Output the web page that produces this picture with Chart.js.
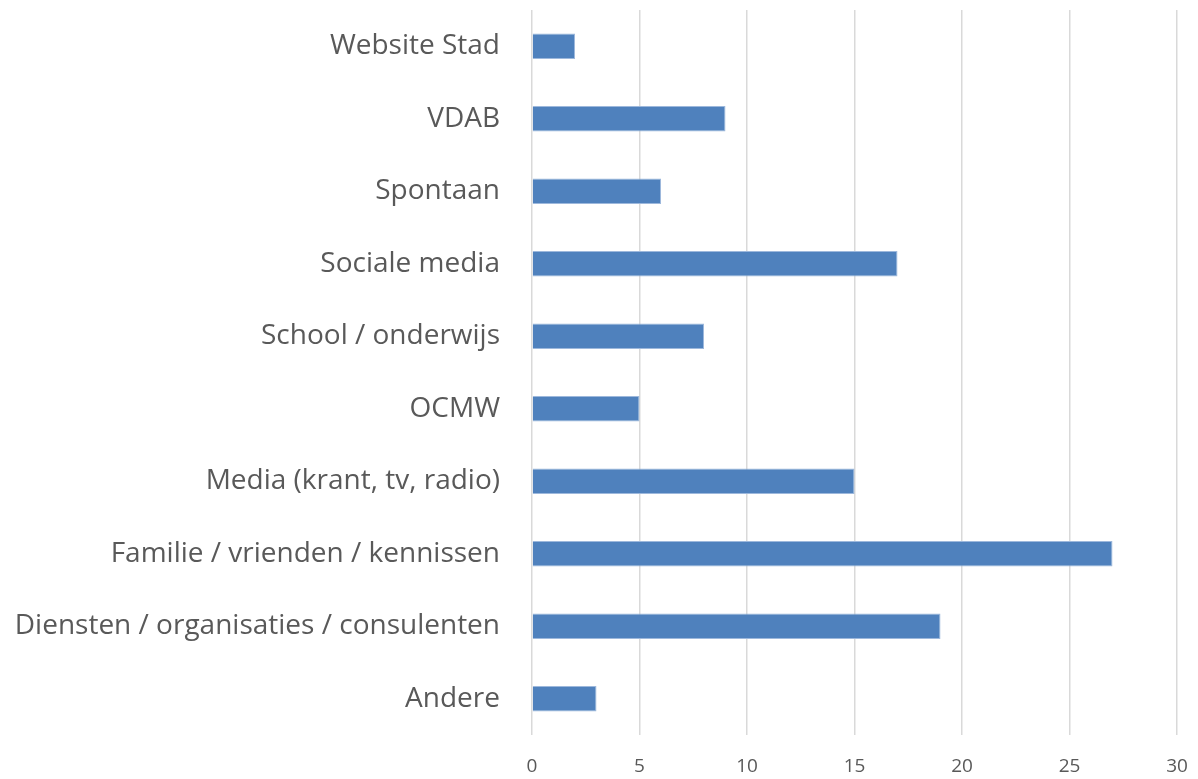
<!DOCTYPE html>
<html>
<head>
<meta charset="utf-8">
<script src="https://cdn.jsdelivr.net/npm/chart.js@4.4.0/dist/chart.umd.min.js"></script>
<style>
  html, body { margin: 0; padding: 0; background: #fff; }
  #wrap { width: 1198px; height: 779px; }
</style>
</head>
<body>
<div id="wrap"><canvas id="chart"></canvas></div>
<script>
const categories = [
    "Website Stad",
    "VDAB",
    "Spontaan",
    "Sociale media",
    "School / onderwijs",
    "OCMW",
    "Media (krant, tv, radio)",
    "Familie / vrienden / kennissen",
    "Diensten / organisaties / consulenten",
    "Andere",
];
const counts = [2, 9, 6, 17, 8, 5, 15, 27, 19, 3];
const xTicks = [0, 5, 10, 15, 20, 25, 30];

const ctx = document.getElementById("chart").getContext("2d");
new Chart(ctx, {
    type: "bar",
    data: {
        labels: categories,
        datasets: [{
            data: counts,
            backgroundColor: "#4f81bd",
            borderColor: "#9db8dc",
            borderWidth: 1,
            categoryPercentage: 1,
            barPercentage: 0.35,
        }],
    },
    options: {
        indexAxis: "y",
        responsive: true,
        maintainAspectRatio: false,
        animation: false,
        layout: { padding: { top: 10, right: 21, left: 0, bottom: 0 } },
        plugins: {
            legend: { display: false },
            tooltip: { enabled: false },
        },
        scales: {
            x: {
                min: 0,
                max: 30,
                afterBuildTicks: (axis) => {
                    axis.ticks = xTicks.map((v) => ({ value: v }));
                },
                afterFit: (axis) => {
                    axis.height = 44;
                    axis.paddingLeft = 0;
                    axis.paddingRight = 0;
                },
                grid: { color: "#d9d9d9", lineWidth: 1.5, drawTicks: false },
                border: { display: false },
                ticks: {
                    color: "#595959",
                    padding: 20,
                    font: { family: "'Open Sans', sans-serif", size: 19 },
                },
            },
            y: {
                afterFit: (axis) => {
                    axis.width = 532;
                    axis.paddingTop = 0;
                    axis.paddingBottom = 0;
                },
                grid: { display: false, drawTicks: false },
                border: { display: false },
                ticks: {
                    color: "#595959",
                    padding: 32,
                    font: { family: "'Open Sans', sans-serif", size: 28 },
                },
            },
        },
    },
});
</script>
</body>
</html>
